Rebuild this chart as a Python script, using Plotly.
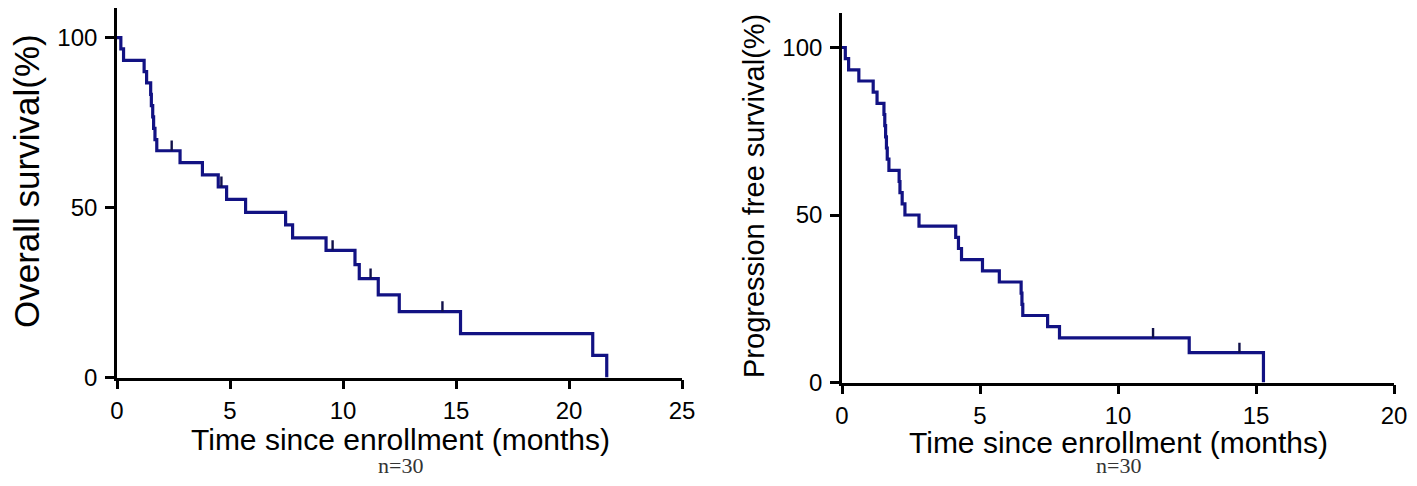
import plotly.graph_objects as go

# ---- Overall survival (left) ----
os_time = [0, 0.17, 0.29, 1.20, 1.31, 1.49, 1.52, 1.58, 1.62, 1.68, 1.76, 2.79, 3.78,
           4.48, 4.85, 5.69, 7.46, 7.77, 9.25, 10.53, 10.72, 11.56, 12.49, 15.20, 21.05, 21.67]
os_surv = [100, 96.7, 93.3, 90.0, 86.7, 83.3, 80.0, 76.7, 73.3, 70.0, 66.7, 63.2, 59.6,
           56.1, 52.4, 48.6, 44.9, 41.1, 37.4, 33.2, 29.1, 24.3, 19.4, 12.9, 6.5, 0]
os_cens_time = [2.42, 4.62, 9.54, 11.22, 14.40]
os_cens_surv = [66.7, 56.1, 37.4, 29.1, 19.4]

# ---- Progression free survival (right) ----
pfs_time = [0, 0.12, 0.24, 0.61, 1.13, 1.27, 1.52, 1.55, 1.58, 1.61, 1.64, 1.70, 2.07, 2.10,
            2.18, 2.28, 2.79, 4.12, 4.22, 4.33, 5.09, 5.70, 6.49, 6.52, 6.55, 7.45, 7.88, 12.58, 15.27]
pfs_surv = [100, 96.7, 93.3, 90.0, 86.7, 83.3, 80.0, 76.7, 73.3, 70.0, 66.7, 63.3, 60.0, 56.7,
            53.3, 50.0, 46.7, 43.3, 40.0, 36.7, 33.3, 30.0, 26.7, 23.3, 20.0, 16.7, 13.3, 8.9, 0]
pfs_cens_time = [11.27, 14.40]
pfs_cens_surv = [13.3, 8.9]

os_xticks = [0, 5, 10, 15, 20, 25]
pfs_xticks = [0, 5, 10, 15, 20]
yticks = [0, 50, 100]

x_title = "Time since enrollment (months)"
os_ylabel = "Overall survival(%)"
pfs_ylabel = "Progression free survival(%)"
n_label = "n=30"

LINE = "#121283"
SANS = "Liberation Sans, Arial, sans-serif"
SERIF = "Liberation Serif, Times New Roman, serif"

# the page body has an 8px margin: size the figure so it fits inside the window
OFF = 8
W, H = 1417 - 2 * OFF, 486 - 2 * OFF


def px_x(p):
    return min(max((p - OFF) / W, 0.0), 1.0)


def px_y(p):
    return min(max((H - (p - OFF)) / H, 0.0), 1.0)


def censor_trace(xs, ys, xa, ya):
    return go.Scatter(
        x=xs, y=ys, mode="markers", marker=dict(size=1, opacity=0),
        error_y=dict(type="data", symmetric=False, array=[3.0] * len(xs), arrayminus=[0] * len(xs),
                     thickness=2.4, width=0, color="#10104a"),
        xaxis=xa, yaxis=ya, showlegend=False, hoverinfo="skip")


fig = go.Figure()
fig.add_trace(go.Scatter(x=os_time, y=os_surv, mode="lines", line=dict(color=LINE, width=3.2, shape="hv"),
                         xaxis="x", yaxis="y", showlegend=False))
fig.add_trace(censor_trace(os_cens_time, os_cens_surv, "x", "y"))
fig.add_trace(go.Scatter(x=pfs_time, y=pfs_surv, mode="lines", line=dict(color=LINE, width=3.2, shape="hv"),
                         xaxis="x2", yaxis="y2", showlegend=False))
fig.add_trace(censor_trace(pfs_cens_time, pfs_cens_surv, "x2", "y2"))

axis_common = dict(showline=True, linecolor="black", linewidth=2.6, ticks="outside", ticklen=9,
                   tickwidth=2.6, tickcolor="black", showgrid=False, zeroline=False, automargin=False,
                   tickfont=dict(family=SANS, size=24, color="black"))

fig.update_layout(
    template="none",
    width=W, height=H, margin=dict(l=0, r=0, t=0, b=0, pad=0, autoexpand=False),
    paper_bgcolor="white", plot_bgcolor="white",
    xaxis=dict(domain=[px_x(117), px_x(682)], range=[0, 25], tickvals=os_xticks, anchor="y",
               ticklabelstandoff=1, **axis_common),
    yaxis=dict(domain=[px_y(377.5), px_y(8)], range=[0, 108.7], tickvals=yticks, anchor="x",
               ticklabelstandoff=3, **axis_common),
    xaxis2=dict(domain=[px_x(842), px_x(1394)], range=[0, 20], tickvals=pfs_xticks, anchor="y2",
                ticklabelstandoff=1, **axis_common),
    yaxis2=dict(domain=[px_y(382.5), px_y(13)], range=[0, 110.3], tickvals=yticks, anchor="x2",
                ticklabelstandoff=3, **axis_common),
)

ann = [
    dict(text=x_title, x=px_x(400), y=px_y(439), font=dict(family=SANS, size=30, color="black")),
    dict(text=x_title, x=px_x(1118), y=px_y(442), font=dict(family=SANS, size=30, color="black")),
    dict(text=n_label, x=px_x(400), y=px_y(465), font=dict(family=SERIF, size=22, color="#333333")),
    dict(text=n_label, x=px_x(1118), y=px_y(465), font=dict(family=SERIF, size=22, color="#333333")),
    dict(text=os_ylabel, x=px_x(26), y=px_y(181), textangle=-90,
         font=dict(family=SANS, size=35, color="black")),
    dict(text=pfs_ylabel, x=px_x(754), y=px_y(196), textangle=-90,
         font=dict(family=SANS, size=29, color="black")),
]
for a in ann:
    a.update(xref="paper", yref="paper", showarrow=False, xanchor="center", yanchor="middle")
fig.update_layout(annotations=ann)

fig.write_html("out.html")
